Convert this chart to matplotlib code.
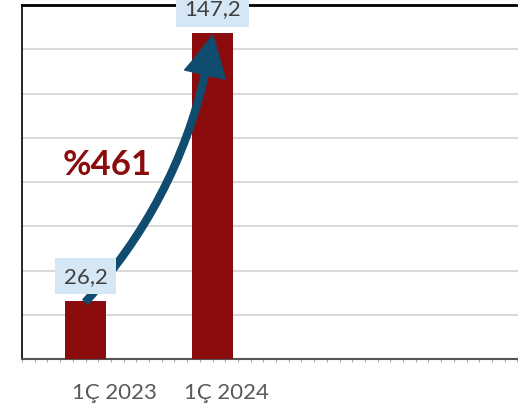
import numpy as np
import matplotlib.pyplot as plt
from matplotlib.ticker import MultipleLocator

# data
categories = ['1Ç 2023', '1Ç 2024', '', '']
values = [26.2, 147.2, 0, 0]
value_labels = ['26,2', '147,2']
growth_label = '%461'

bar_color = '#8b0c0c'
arrow_color = '#0f4c70'
box_color = '#d5e6f4'

plt.rcParams['font.family'] = ['Lato', 'DejaVu Sans']

fig = plt.figure(figsize=(5.18, 4.14), dpi=100)
ax = fig.add_axes([22/518, 1 - 360/414, 508/518, 354/414])

x = np.arange(len(categories))
ax.bar(x[:2], values[:2], width=0.315, color=bar_color, zorder=3)

ax.set_xlim(-0.5, 3.5)
ax.set_ylim(0, 160)
ax.yaxis.set_major_locator(MultipleLocator(20))
ax.grid(axis='y', color='#d9d9d9', linewidth=1.5, zorder=0)
ax.tick_params(axis='y', left=False, labelleft=False)
ax.set_xticks([])
ax.xaxis.set_minor_locator(MultipleLocator(0.1))
ax.tick_params(axis='x', which='minor', length=2.5, color='#aaaaaa', width=0.8)

for s in ['left', 'top']:
    ax.spines[s].set_color('black')
ax.spines['left'].set_linewidth(1.2)
ax.spines['top'].set_linewidth(2)
ax.spines['bottom'].set_color('#555555')
ax.spines['bottom'].set_linewidth(1.5)
ax.spines['right'].set_visible(False)

# category labels (shifted as in the original)
label_x = [0.23, 1.11]
for lx, lab in zip(label_x, categories[:2]):
    ax.text(lx, -0.093, lab, transform=ax.get_xaxis_transform(), ha='center', va='center',
            fontsize=16, color='#595959')

# value labels
for i, lab in enumerate(value_labels):
    ax.annotate(lab, (x[i], values[i]), xytext=(0, 18), textcoords='offset points',
                ha='center', va='center', fontsize=16, color='#404040', zorder=8,
                bbox=dict(boxstyle='square,pad=0.38', fc=box_color, ec='none'))

# growth arrow
ax.annotate('', xy=(1.0, 146.4), xytext=(0, 25.8),
            arrowprops=dict(arrowstyle='simple,head_length=2.9,head_width=3.0,tail_width=0.5',
                            mutation_scale=10, color=arrow_color,
                            connectionstyle='arc3,rad=0.15', shrinkA=0, shrinkB=0),
            zorder=5)

ax.text(0.17, 88, growth_label, ha='center', va='center', fontsize=25,
        fontweight='bold', color=bar_color, zorder=6)

fig.savefig('out.png', dpi=100)
